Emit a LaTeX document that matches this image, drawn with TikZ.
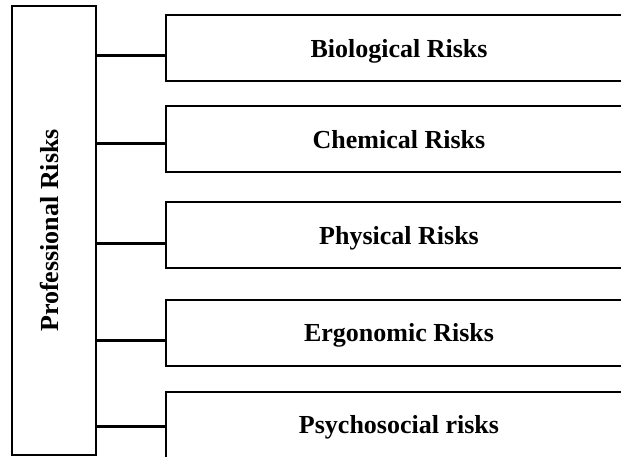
\documentclass[tikz,border=0pt]{standalone}
\usepackage{fontspec}
\setmainfont{Liberation Serif}
\begin{document}
\begin{tikzpicture}[x=0.5pt,y=-0.5pt,
    riskbox/.style={draw, line width=1pt, minimum width=233pt, minimum height=33pt,
        inner sep=0pt, text depth=0pt, font=\fontsize{13}{15}\selectfont\bfseries},
    link/.style={line width=1.5pt}]
    \useasboundingbox (0,0) rectangle (621,456);
    \clip (0,0) rectangle (621,456);
    % main category
    \node[draw, line width=1pt, minimum width=42pt, minimum height=224.5pt, inner sep=0pt,
        font=\fontsize{13}{15}\selectfont\bfseries] (prof) at (54,230.5) {};
    \node[font=\fontsize{13}{15}\selectfont\bfseries] at ([xshift=-2.5pt]prof.center)
        {\rotatebox{90}{Professional Risks}};
    % sub categories
    \foreach \y/\lbl/\dy [count=\i] in {48/Biological Risks/3.5, 139/Chemical Risks/2,
        235/Physical Risks/4, 332.5/Ergonomic Risks/3.75, 424.5/Psychosocial risks/0.75}
    {
        \node[riskbox] (risk\i) at (399,\y) {\lbl};
        \draw[link] ([yshift=-\dy pt]risk\i.west) -- ([yshift=-\dy pt]prof.east |- risk\i.west);
    }
\end{tikzpicture}
\end{document}
